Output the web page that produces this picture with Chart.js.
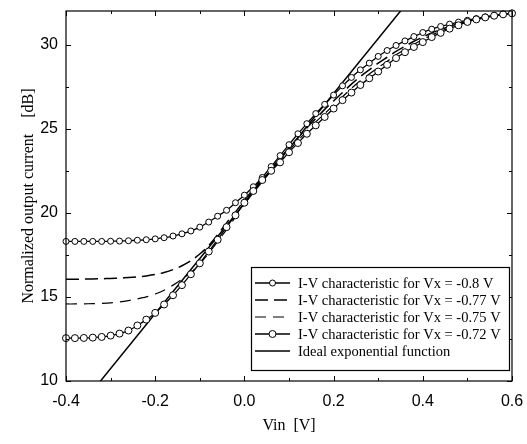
<!DOCTYPE html>
<html>
<head>
<meta charset="utf-8">
<script src="https://cdn.jsdelivr.net/npm/chart.js@4.4.1/dist/chart.umd.min.js"></script>
<style>
html,body{margin:0;padding:0;background:#fff;}
#wrap{width:527px;height:444px;position:relative;}
</style>
</head>
<body>
<div id="wrap"><canvas id="c" width="527" height="444"></canvas></div>
<script>
// ---- data ----
const vin = [-0.40,-0.38,-0.36,-0.34,-0.32,-0.30,-0.28,-0.26,-0.24,-0.22,-0.20,-0.18,-0.16,-0.14,-0.12,-0.10,-0.08,-0.06,-0.04,-0.02,
  0.00,0.02,0.04,0.06,0.08,0.10,0.12,0.14,0.16,0.18,0.20,0.22,0.24,0.26,0.28,0.30,0.32,0.34,0.36,0.38,0.40,0.42,0.44,0.46,0.48,0.50,0.52,0.54,0.56,0.58,0.60];
const vx080 = [18.30,18.30,18.30,18.30,18.30,18.31,18.32,18.34,18.37,18.40,18.45,18.52,18.62,18.75,18.92,19.15,19.45,19.80,20.15,20.60,
  21.05,21.55,22.10,22.75,23.40,24.05,24.70,25.30,25.90,26.45,27.00,27.55,28.05,28.50,28.90,29.30,29.65,29.95,30.22,30.48,30.72,30.92,31.08,31.22,31.34,31.45,31.55,31.65,31.74,31.82,31.88];
const vx077 = [16.05,16.05,16.06,16.07,16.08,16.10,16.12,16.15,16.19,16.25,16.33,16.45,16.62,16.85,17.15,17.55,18.05,18.70,19.40,20.05,
  20.75,21.40,22.05,22.65,23.25,23.85,24.45,25.05,25.60,26.15,26.65,27.15,27.65,28.10,28.50,28.90,29.25,29.60,29.90,30.20,30.45,30.70,30.90,31.08,31.25,31.38,31.50,31.60,31.70,31.78,31.85];
const vx075 = [14.58,14.58,14.59,14.60,14.62,14.65,14.70,14.78,14.88,15.00,15.17,15.40,15.70,16.05,16.45,16.95,17.60,18.30,19.00,19.75,
  20.50,21.25,21.95,22.55,23.10,23.70,24.30,24.85,25.40,25.90,26.40,26.90,27.40,27.85,28.25,28.65,29.00,29.40,29.72,30.02,30.30,30.57,30.80,31.00,31.20,31.36,31.50,31.60,31.70,31.78,31.85];
const vx072 = [12.55,12.55,12.56,12.58,12.62,12.70,12.82,13.00,13.30,13.65,14.05,14.55,15.10,15.70,16.35,17.00,17.70,18.40,19.15,19.85,
  20.60,21.30,21.95,22.50,23.00,23.60,24.15,24.70,25.20,25.70,26.20,26.70,27.15,27.60,28.00,28.40,28.80,29.20,29.55,29.86,30.15,30.45,30.70,30.95,31.15,31.35,31.50,31.62,31.72,31.80,31.86];
const idealX = [-0.40, 0.60];
const idealY = [7.47, 40.17];
const xTicks = [-0.4,-0.2,0.0,0.2,0.4,0.6];
const yTicks = [10,15,20,25,30];
const seriesLabels = [
  'I-V characteristic for Vx = -0.8 V',
  'I-V characteristic for Vx = -0.77 V',
  'I-V characteristic for Vx = -0.75 V',
  'I-V characteristic for Vx = -0.72 V',
  'Ideal exponential function'
];

const toXY = (xs, ys) => xs.map((x, i) => ({x: x, y: ys[i]}));

const frameAndLegend = {
  id: 'frameAndLegend',
  afterDraw(chart) {
    const ctx = chart.ctx;
    const a = chart.chartArea;
    const xs = chart.scales.x, ys = chart.scales.y;
    ctx.save();
    ctx.strokeStyle = '#000';
    ctx.lineWidth = 1.2;
    ctx.strokeRect(a.left, a.top, a.right - a.left, a.bottom - a.top);
    // inward ticks
    ctx.lineWidth = 1;
    ctx.beginPath();
    for (let v = -0.4; v <= 0.6001; v += 0.1) {
      const px = Math.round(xs.getPixelForValue(v)) + 0.5;
      const major = Math.abs(Math.round(v * 10) % 2) === 0;
      const L = major ? 5 : 3;
      ctx.moveTo(px, a.bottom); ctx.lineTo(px, a.bottom - L);
      ctx.moveTo(px, a.top); ctx.lineTo(px, a.top + L);
    }
    for (let v = 10; v <= 32.001; v += 2.5) {
      const py = Math.round(ys.getPixelForValue(v)) + 0.5;
      const major = (v % 5) === 0;
      const L = major ? 5 : 3;
      ctx.moveTo(a.left, py); ctx.lineTo(a.left + L, py);
      ctx.moveTo(a.right, py); ctx.lineTo(a.right - L, py);
    }
    ctx.stroke();

    // legend box
    const bx = 251, by = 267, bw = 258, bh = 103;
    ctx.fillStyle = '#fff';
    ctx.fillRect(bx, by, bw, bh);
    ctx.lineWidth = 1.2;
    ctx.strokeRect(bx + 0.5, by + 0.5, bw, bh);
    ctx.font = '14.5px "Liberation Serif", "Times New Roman", serif';
    ctx.textBaseline = 'middle';
    ctx.textAlign = 'left';
    chart.data.datasets.forEach((ds, i) => {
      const y = by + 16 + i * 17;
      const x0 = bx + 4, x1 = bx + 39;
      ctx.strokeStyle = '#000';
      ctx.lineWidth = ds.borderWidth;
      ctx.setLineDash(ds.borderDash || []);
      ctx.beginPath(); ctx.moveTo(x0, y); ctx.lineTo(x1, y); ctx.stroke();
      ctx.setLineDash([]);
      if (ds.pointRadius > 0) {
        ctx.beginPath();
        ctx.arc((x0 + x1) / 2, y, ds.pointRadius, 0, Math.PI * 2);
        ctx.fillStyle = '#fff'; ctx.fill();
        ctx.lineWidth = 1; ctx.stroke();
      }
      ctx.fillStyle = '#000';
      ctx.fillText(ds.label, bx + 47, y + 1);
    });
    ctx.restore();
  }
};

new Chart(document.getElementById('c'), {
  type: 'line',
  data: {
    datasets: [
      { label: seriesLabels[0], data: toXY(vin, vx080), borderColor: '#000', borderWidth: 1.3,
        pointRadius: 3, pointBackgroundColor: '#fff', pointBorderColor: '#000', pointBorderWidth: 1, clip: 8, order: 2 },
      { label: seriesLabels[1], data: toXY(vin, vx077), borderColor: '#000', borderWidth: 1.5, borderDash: [13, 6],
        pointRadius: 0, clip: 8, order: 4 },
      { label: seriesLabels[2], data: toXY(vin, vx075), borderColor: '#000', borderWidth: 1.2, borderDash: [11, 7],
        pointRadius: 0, clip: 8, order: 5 },
      { label: seriesLabels[3], data: toXY(vin, vx072), borderColor: '#000', borderWidth: 1.3,
        pointRadius: 3.5, pointBackgroundColor: '#fff', pointBorderColor: '#000', pointBorderWidth: 1, clip: 8, order: 1 },
      { label: seriesLabels[4], data: toXY(idealX, idealY), borderColor: '#000', borderWidth: 1.5,
        pointRadius: 0, clip: 0, order: 3 }
    ]
  },
  options: {
    responsive: false,
    animation: false,
    layout: { padding: { left: 0, top: 11, right: 15, bottom: 0 } },
    plugins: { legend: { display: false }, tooltip: { enabled: false } },
    elements: { line: { tension: 0.3 } },
    scales: {
      x: {
        type: 'linear', min: -0.4, max: 0.6,
        afterBuildTicks: s => { s.ticks = xTicks.map(v => ({value: v})); },
        afterFit: s => { s.height = 63; s.paddingLeft = 0; s.paddingRight = 0; },
        grid: { display: false, drawTicks: false },
        border: { display: false },
        ticks: { color: '#000', padding: 11, font: { family: '"Liberation Sans", Arial, sans-serif', size: 16 },
          callback: v => Number(v).toFixed(1) },
        title: { display: true, text: 'Vin  [V]', color: '#000',
          font: { family: '"Liberation Serif", "Times New Roman", serif', size: 16 }, padding: { top: 0, bottom: 9 } }
      },
      y: {
        type: 'linear', min: 10, max: 32,
        afterBuildTicks: s => { s.ticks = yTicks.map(v => ({value: v})); },
        afterFit: s => { s.width = 66; s.paddingTop = 0; s.paddingBottom = 0; },
        grid: { display: false, drawTicks: false },
        border: { display: false },
        ticks: { color: '#000', padding: 8, font: { family: '"Liberation Sans", Arial, sans-serif', size: 16 } },
        title: { display: true, text: 'Normalized output current    [dB]', color: '#000',
          font: { family: '"Liberation Serif", "Times New Roman", serif', size: 16 }, padding: { top: 19, bottom: 0 } }
      }
    }
  },
  plugins: [frameAndLegend]
});
</script>
</body>
</html>
